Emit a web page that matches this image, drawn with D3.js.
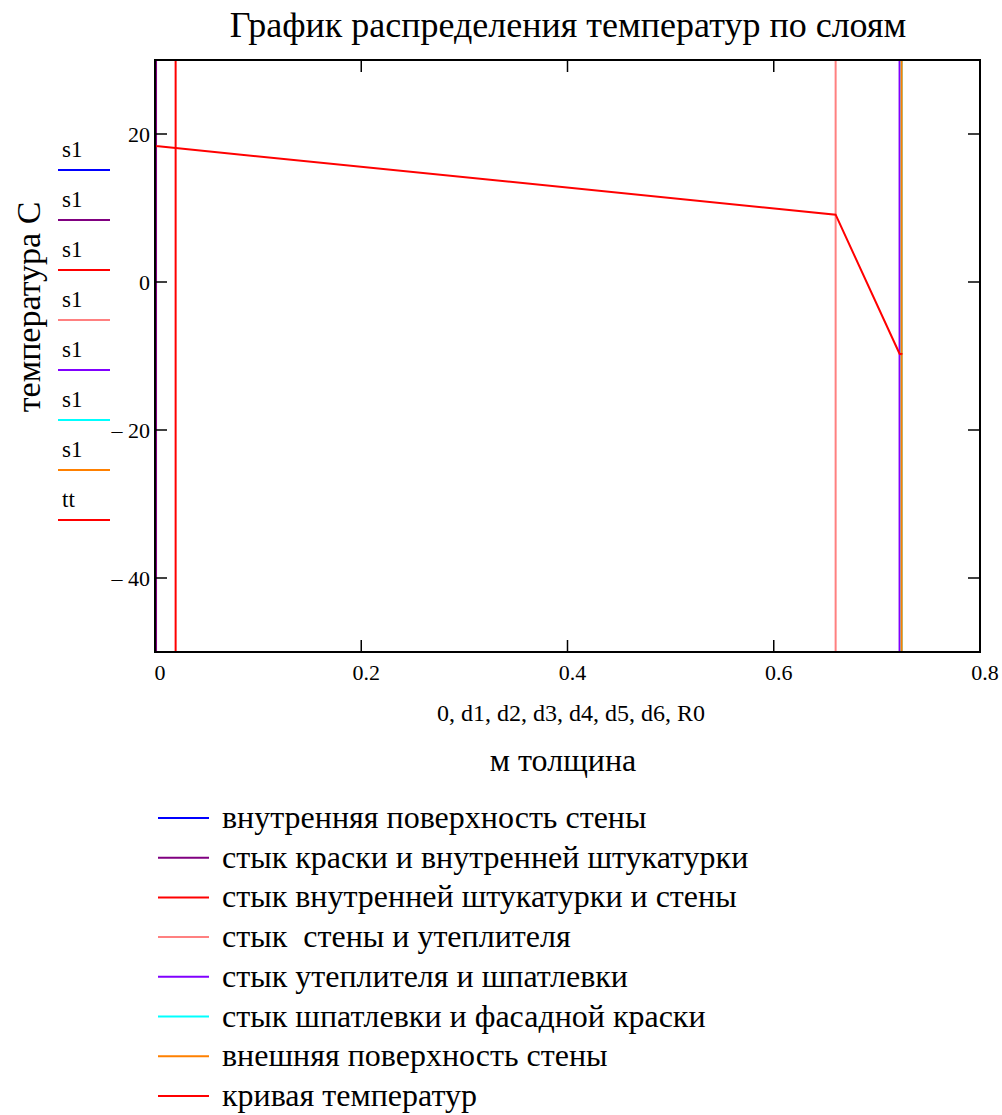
<!DOCTYPE html>
<html>
<head>
<meta charset="utf-8">
<script src="https://cdn.jsdelivr.net/npm/d3@7"></script>
<style>
  body { margin: 0; background: #fff; }
</style>
</head>
<body>
<div id="chart"></div>
<script>
// layer boundaries (m)
const boundaries = [0, 0.001, 0.02, 0.66, 0.722, 0.724, 0.724]
const boundaryColors = ['#0000ff', '#800080', '#ff0000', '#ff8080', '#8000ff', '#00ffff', '#ff8000']
const boundaryNames = [
  'внутренняя поверхность стены',
  'стык краски и внутренней штукатурки',
  'стык внутренней штукатурки и стены',
  'стык  стены и утеплителя',
  'стык утеплителя и шпатлевки',
  'стык шпатлевки и фасадной краски',
  'внешняя поверхность стены',
]
// temperature curve
const R0 = [0, 0.001, 0.02, 0.66, 0.722, 0.724, 0.724]
const tt = [18.4, 18.38, 18.1, 9.1, -9.7, -9.75, -9.8]
const curveName = 'кривая температур'
const curveColor = '#ff0000'

const xTicks = [0, 0.2, 0.4, 0.6, 0.8]
const yTicks = [20, 0, -20, -40]

const width = 1002,
  height = 1115
const m = { left: 155, right: 980, top: 60, bottom: 652 }
const serif = "'Liberation Serif', 'Times New Roman', Times, serif"

const svg = d3
  .select('#chart')
  .append('svg')
  .attr('width', width)
  .attr('height', height)
  .attr('font-family', serif)

const x = d3.scaleLinear().domain([0, 0.8]).range([m.left, m.right])
const y = d3.scaleLinear().domain([-50, 30]).range([m.bottom, m.top])

const plot = svg.append('g')

// vertical boundary lines (s1 traces)
plot
  .selectAll('line.bound')
  .data(boundaries)
  .enter()
  .append('line')
  .attr('class', 'bound')
  .attr('x1', d => x(d))
  .attr('x2', d => x(d))
  .attr('y1', y(-50))
  .attr('y2', y(30))
  .attr('stroke', (d, i) => boundaryColors[i])
  .attr('stroke-width', 2)

// temperature curve (tt)
const line = d3
  .line()
  .x((d, i) => x(R0[i]))
  .y(d => y(d))

plot
  .append('path')
  .datum(tt)
  .attr('d', line)
  .attr('fill', 'none')
  .attr('stroke', curveColor)
  .attr('stroke-width', 2)

// frame
svg
  .append('rect')
  .attr('x', m.left)
  .attr('y', m.top)
  .attr('width', m.right - m.left)
  .attr('height', m.bottom - m.top)
  .attr('fill', 'none')
  .attr('stroke', '#000')
  .attr('stroke-width', 2)

// inward ticks
const tickLen = 12
xTicks.slice(1, -1).forEach(t => {
  svg.append('line').attr('x1', x(t)).attr('x2', x(t))
    .attr('y1', m.bottom).attr('y2', m.bottom - tickLen)
    .attr('stroke', '#000').attr('stroke-width', 1.5)
  svg.append('line').attr('x1', x(t)).attr('x2', x(t))
    .attr('y1', m.top).attr('y2', m.top + tickLen)
    .attr('stroke', '#000').attr('stroke-width', 1.5)
})
yTicks.forEach(t => {
  svg.append('line').attr('x1', m.left).attr('x2', m.left + tickLen)
    .attr('y1', y(t)).attr('y2', y(t))
    .attr('stroke', '#000').attr('stroke-width', 1.5)
  svg.append('line').attr('x1', m.right).attr('x2', m.right - tickLen)
    .attr('y1', y(t)).attr('y2', y(t))
    .attr('stroke', '#000').attr('stroke-width', 1.5)
})

// tick labels
svg
  .selectAll('text.xt')
  .data(xTicks)
  .enter()
  .append('text')
  .attr('class', 'xt')
  .attr('x', d => x(d) + 5)
  .attr('y', 680)
  .attr('text-anchor', 'middle')
  .attr('font-size', 22)
  .text(d => d3.format('.1~f')(d))

svg
  .selectAll('text.yt')
  .data(yTicks)
  .enter()
  .append('text')
  .attr('class', 'yt')
  .attr('x', 150)
  .attr('y', d => y(d) + 8)
  .attr('text-anchor', 'end')
  .attr('font-size', 22)
  .text(d => (d < 0 ? '– ' + Math.abs(d) : d))

// titles
svg.append('text')
  .attr('x', 568).attr('y', 37)
  .attr('text-anchor', 'middle')
  .attr('font-size', 36)
  .text('График распределения температур по слоям')

svg.append('text')
  .attr('transform', 'translate(40, 307) rotate(-90)')
  .attr('text-anchor', 'middle')
  .attr('font-size', 34)
  .text('температура С')

svg.append('text')
  .attr('x', 571).attr('y', 721)
  .attr('text-anchor', 'middle')
  .attr('font-size', 24)
  .text('0, d1, d2, d3, d4, d5, d6, R0')

svg.append('text')
  .attr('x', 563).attr('y', 771)
  .attr('text-anchor', 'middle')
  .attr('font-size', 32)
  .text('м толщина')

// left trace-name legend
const traceLabels = boundaries.map(() => 's1').concat(['tt'])
const traceColors = boundaryColors.concat([curveColor])
const tl = svg
  .selectAll('g.trace')
  .data(traceLabels)
  .enter()
  .append('g')
  .attr('class', 'trace')
  .attr('transform', (d, i) => `translate(0, ${170 + i * 50})`)
tl.append('text')
  .attr('x', 62).attr('y', -13)
  .attr('font-size', 23)
  .text(d => d)
tl.append('line')
  .attr('x1', 58).attr('x2', 110)
  .attr('stroke', (d, i) => traceColors[i])
  .attr('stroke-width', 2)

// bottom legend
const legNames = boundaryNames.concat([curveName])
const lg = svg
  .selectAll('g.leg')
  .data(legNames)
  .enter()
  .append('g')
  .attr('class', 'leg')
  .attr('transform', (d, i) => `translate(0, ${818 + i * 39.7})`)
lg.append('line')
  .attr('x1', 158).attr('x2', 209)
  .attr('stroke', (d, i) => traceColors[i])
  .attr('stroke-width', 2)
lg.append('text')
  .attr('x', 222).attr('y', 10)
  .attr('font-size', 32)
  .style('white-space', 'pre')
  .text(d => d)
</script>
</body>
</html>
